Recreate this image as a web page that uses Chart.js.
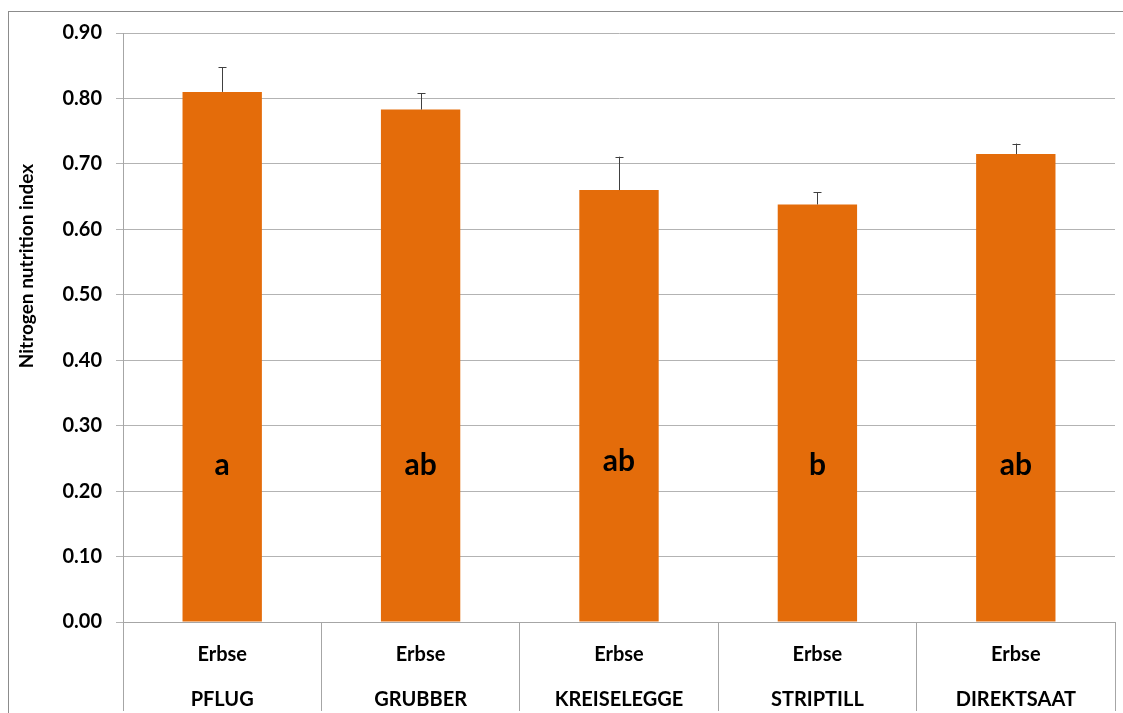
<!DOCTYPE html>
<html>
<head>
<meta charset="utf-8">
<script src="https://cdn.jsdelivr.net/npm/chart.js@4.4.1/dist/chart.umd.min.js"></script>
<style>
	html, body { margin: 0; padding: 0; background: #fff; }
	#wrap { width: 1123px; height: 713px; }
</style>
</head>
<body>
<div id="wrap"><canvas id="bars"></canvas></div>
<script>
// crop and tillage treatments
const crops = ['Erbse', 'Erbse', 'Erbse', 'Erbse', 'Erbse'];
const tillage = ['PFLUG', 'GRUBBER', 'KREISELEGGE', 'STRIPTILL', 'DIREKTSAAT'];

// mean nitrogen nutrition index and upper error bar values
const nniMeans = [0.810, 0.783, 0.660, 0.638, 0.715];
const nniErrors = [0.038, 0.025, 0.051, 0.019, 0.016];

// significance letters, placed at this value inside the bars
const letters = ['a', 'ab', 'ab', 'b', 'ab'];
const letterLevel = [0.24, 0.24, 0.245, 0.24, 0.24];

const yTicks = [0, 0.1, 0.2, 0.3, 0.4, 0.5, 0.6, 0.7, 0.8, 0.9];

const FONT = 'Lato, "Open Sans", sans-serif';

//draws the error whiskers and letters on top of the bars
const extrasPlugin = {
	id: 'extras',
	afterDatasetsDraw(chart) {
		const ctx = chart.ctx;
		const x = chart.scales.x;
		const y = chart.scales.y;

		ctx.save();
		ctx.strokeStyle = '#404040';
		ctx.lineWidth = 1;
		nniMeans.forEach((v, i) => {
			const px = Math.round(x.getPixelForValue(i)) + 0.5;
			const top = y.getPixelForValue(v + nniErrors[i]);
			const bottom = y.getPixelForValue(v);
			ctx.beginPath();
			ctx.moveTo(px, bottom);
			ctx.lineTo(px, top);
			ctx.moveTo(px - 4, Math.round(top) + 0.5);
			ctx.lineTo(px + 4, Math.round(top) + 0.5);
			ctx.stroke();
		});

		ctx.fillStyle = '#000';
		ctx.font = 'bold 30px ' + FONT;
		ctx.textAlign = 'center';
		ctx.textBaseline = 'middle';
		letters.forEach((l, i) => {
			ctx.fillText(l, x.getPixelForValue(i), y.getPixelForValue(letterLevel[i]));
		});
		ctx.restore();
	},
	afterDraw(chart) {
		const ctx = chart.ctx;
		ctx.save();

		//outer frame of the chart
		ctx.strokeStyle = '#8c8c8c';
		ctx.lineWidth = 1;
		ctx.strokeRect(8.5, 11.5, 1120, 720);

		//axis title, drawn by hand so it sits where the original has it
		ctx.translate(27, 266);
		ctx.rotate(-Math.PI / 2);
		ctx.fillStyle = '#000';
		ctx.font = 'bold 19px ' + FONT;
		ctx.textAlign = 'center';
		ctx.textBaseline = 'middle';
		ctx.fillText('Nitrogen nutrition index', 0, 0);
		ctx.restore();
	}
};

const labels = crops.map((c, i) => [c, tillage[i]]);

new Chart(document.getElementById('bars'), {
	type: 'bar',
	data: {
		labels: labels,
		datasets: [{
			data: nniMeans,
			backgroundColor: '#E46C0A',
			borderWidth: 0,
			barPercentage: 0.4,
			categoryPercentage: 1.0
		}]
	},
	options: {
		responsive: true,
		maintainAspectRatio: false,
		animation: false,
		layout: { padding: { top: 33, right: 8, left: 0, bottom: 0 } },
		plugins: {
			legend: { display: false },
			tooltip: { enabled: false }
		},
		scales: {
			x: {
				offset: true,
				grid: {
					offset: true,
					drawOnChartArea: false,
					drawTicks: true,
					tickLength: 89,
					color: '#a6a6a6'
				},
				border: { display: true, color: '#a6a6a6' },
				ticks: {
					color: '#000',
					font: { family: FONT, size: 20, weight: 'bold', lineHeight: '45px' },
					padding: -79,
					maxRotation: 0,
					autoSkip: false
				},
				afterFit(scale) { scale.height = 91; }
			},
			y: {
				min: 0,
				max: 0.9,
				afterBuildTicks(scale) {
					scale.ticks = yTicks.map(v => ({ value: v }));
				},
				grid: {
					color: '#b3b3b3',
					tickLength: 7
				},
				border: { display: true, color: '#a6a6a6' },
				ticks: {
					color: '#000',
					padding: 14,
					font: { family: FONT, size: 20, weight: 'bold' },
					callback: v => Number(v).toFixed(2)
				},
				afterFit(scale) { scale.width = 123; }
			}
		}
	},
	plugins: [extrasPlugin]
});
</script>
</body>
</html>
